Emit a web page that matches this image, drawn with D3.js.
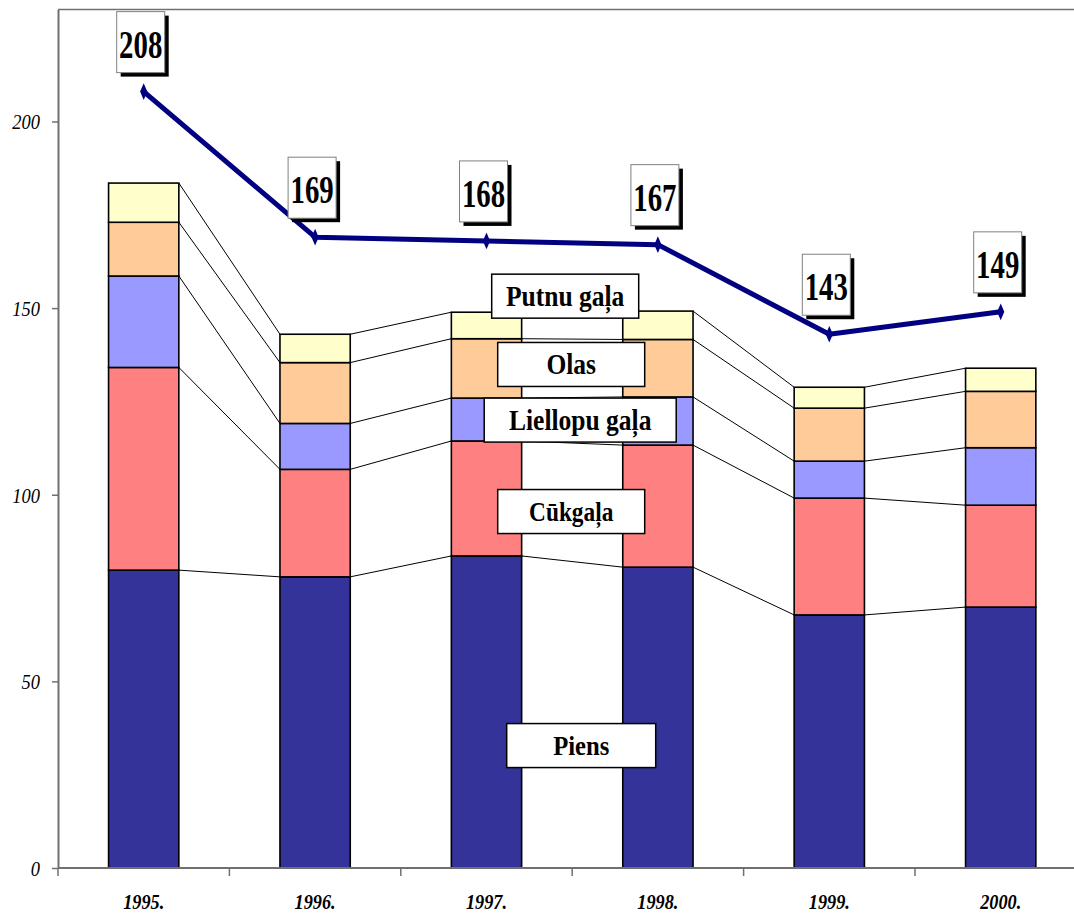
<!DOCTYPE html>
<html>
<head>
<meta charset="utf-8">
<script src="https://cdn.jsdelivr.net/npm/d3@7"></script>
<style>
  html, body { margin: 0; padding: 0; background: #fff; }
  svg { display: block; }
  svg text { font-family: "Liberation Serif", "DejaVu Serif", serif; }
</style>
</head>
<body>
<svg id="chart" width="1074" height="913"></svg>
<script>
/* Stacked bars per product + total line. */

const years   = ["1995.", "1996.", "1997.", "1998.", "1999.", "2000."];
const piens    = [79.8, 78.0, 83.6, 80.6, 67.8, 69.9];
const cukgala  = [54.3, 28.8, 30.8, 32.7, 31.3, 27.3];
const liellopu = [24.5, 12.3, 11.5, 12.9,  9.9, 15.4];
const olas     = [14.4, 16.3, 15.9, 15.4, 14.2, 15.1];
const putnu    = [10.5,  7.6,  7.1,  7.6,  5.6,  6.2];
const total    = [208, 169, 168, 167, 143, 149];
const yTicks   = [0, 50, 100, 150, 200];

const seriesNames = ["Piens", "Cūkgaļa", "Liellopu gaļa", "Olas", "Putnu gaļa"];
const seriesKeys  = ["piens", "cukgala", "liellopu", "olas", "putnu"];
const seriesColor = {
  piens:    "#333399",
  cukgala:  "#ff8080",
  liellopu: "#9999ff",
  olas:     "#ffcc99",
  putnu:    "#ffffcc"
};

/* Where the series name boxes sit: value on the y scale, shift from the
   1997/1998 boundary, box width, font size. */
const nameBoxes = [
  { key: "putnu",    at: 153.2, dx: -7, w: 147, fs: 29 },
  { key: "olas",     at: 134.9, dx: -1, w: 147, fs: 29 },
  { key: "liellopu", at: 120.0, dx:  8, w: 192, fs: 29 },
  { key: "cukgala",  at:  95.5, dx: -1, w: 147, fs: 26.5 },
  { key: "piens",    at:  32.8, dx:  9, w: 149, fs: 28 }
];

const FONT = "'Liberation Serif', 'DejaVu Serif', serif";
const svg = d3.select("#chart");

const rows = years.map(function (yr, i) {
  return { year: yr, piens: piens[i], cukgala: cukgala[i], liellopu: liellopu[i], olas: olas[i], putnu: putnu[i], total: total[i] };
});

const x = d3.scaleBand().domain(years).range([58, 58 + 6 * 171.4]).padding(0);
const y = d3.scaleLinear().domain([0, 230]).range([868, 9.5]);
const barW = x.bandwidth() * 0.41;
const barOff = (x.bandwidth() - barW) / 2;
const cx = function (yr) { return x(yr) + x.bandwidth() / 2; };

const stacked = d3.stack().keys(seriesKeys)(rows);

const axisColor = "#707070";

/* ---------- PLOT FRAME ---------- */

svg.append("line")
  .attr("x1", 58).attr("x2", 1074)
  .attr("y1", y(230)).attr("y2", y(230))
  .attr("stroke", axisColor).attr("stroke-width", 1.5);

/* ---------- CONNECTOR LINES ---------- */

const connectors = svg.append("g").attr("class", "connectors");
stacked.forEach(function (layer) {
  for (let i = 0; i < layer.length - 1; i++) {
    connectors.append("line")
      .attr("x1", x(years[i]) + barOff + barW)
      .attr("y1", y(layer[i][1]))
      .attr("x2", x(years[i + 1]) + barOff)
      .attr("y2", y(layer[i + 1][1]))
      .attr("stroke", "#000")
      .attr("stroke-width", 1);
  }
});

/* ---------- BARS ---------- */

svg.append("g").attr("class", "bars")
  .selectAll("g")
  .data(stacked)
  .enter()
  .append("g")
  .attr("fill", function (d) { return seriesColor[d.key]; })
  .selectAll("rect")
  .data(function (d) { return d; })
  .enter()
  .append("rect")
  .attr("x", function (d) { return x(d.data.year) + barOff; })
  .attr("y", function (d) { return y(d[1]); })
  .attr("width", barW)
  .attr("height", function (d) { return y(d[0]) - y(d[1]); })
  .attr("stroke", "#000")
  .attr("stroke-width", 1.6);

/* ---------- AXES ---------- */

const yAxis = svg.append("g")
  .attr("transform", "translate(58,0)")
  .call(d3.axisLeft(y).tickValues(yTicks).tickSize(6).tickSizeOuter(0));
yAxis.attr("font-family", FONT);
yAxis.select(".domain").attr("stroke", axisColor).attr("stroke-width", 2);
yAxis.selectAll(".tick line").attr("stroke", axisColor).attr("stroke-width", 1.5);
yAxis.selectAll(".tick text")
  .attr("x", -21.5)
  .attr("dy", "0.33em")
  .attr("transform", "scale(0.84,1)")
  .style("font-family", FONT)
  .attr("font-style", "italic")
  .attr("font-size", 22)
  .attr("fill", "#000");

const xAxis = svg.append("g")
  .attr("transform", "translate(0," + y(0) + ")")
  .call(d3.axisBottom(x).tickSize(0).tickSizeOuter(0));
xAxis.attr("font-family", FONT);
xAxis.select(".domain").attr("stroke", axisColor).attr("stroke-width", 2)
  .attr("d", "M58,0H1074");
xAxis.selectAll(".tick text")
  .attr("y", 41)
  .attr("dy", 0)
  .attr("transform", "scale(0.83,1)")
  .style("font-family", FONT)
  .attr("font-style", "italic")
  .attr("font-weight", "bold")
  .attr("font-size", 22)
  .attr("fill", "#000");

/* category boundary ticks */
const bounds = years.map(function (yr) { return x(yr); }).concat([x.range()[1]]);
svg.append("g").selectAll("line")
  .data(bounds)
  .enter()
  .append("line")
  .attr("x1", function (d) { return d; })
  .attr("x2", function (d) { return d; })
  .attr("y1", y(0))
  .attr("y2", y(0) + 8)
  .attr("stroke", axisColor)
  .attr("stroke-width", 1.5);

/* ---------- TOTAL LINE ---------- */

const line = d3.line()
  .x(function (d) { return cx(d.year); })
  .y(function (d) { return y(d.total); });

svg.append("path")
  .datum(rows)
  .attr("d", line)
  .attr("fill", "none")
  .attr("stroke", "#000080")
  .attr("stroke-width", 5)
  .attr("stroke-linejoin", "round");

svg.append("g").selectAll("path")
  .data(rows)
  .enter()
  .append("path")
  .attr("d", d3.symbol().type(d3.symbolDiamond).size(80))
  .attr("transform", function (d) { return "translate(" + cx(d.year) + "," + y(d.total) + ") scale(0.75,1)"; })
  .attr("fill", "#000080");

/* ---------- VALUE LABELS ---------- */

const BOX_W = 48, BOX_H = 61, SHADOW = 4;
const valueLabels = svg.append("g").selectAll("g")
  .data(rows)
  .enter()
  .append("g")
  .attr("transform", function (d) {
    return "translate(" + (cx(d.year) - 27) + "," + (y(d.total) - 19 - BOX_H) + ")";
  });

valueLabels.append("rect")
  .attr("x", SHADOW).attr("y", SHADOW)
  .attr("width", BOX_W).attr("height", BOX_H)
  .attr("fill", "#000");
valueLabels.append("rect")
  .attr("width", BOX_W).attr("height", BOX_H)
  .attr("fill", "#fff")
  .attr("stroke", "#808080")
  .attr("stroke-width", 1);
valueLabels.append("text")
  .attr("transform", "translate(" + (BOX_W / 2) + ",46) scale(0.72,1)")
  .attr("text-anchor", "middle")
  .style("font-family", FONT)
  .attr("font-weight", "bold")
  .attr("font-size", 40)
  .text(function (d) { return d.total; });

/* ---------- SERIES NAME BOXES ---------- */

const midX = x(years[3]);
const NAME_H = 44;
const nameSel = svg.append("g").selectAll("g")
  .data(nameBoxes)
  .enter()
  .append("g")
  .attr("transform", function (d) {
    return "translate(" + (midX + d.dx - d.w / 2) + "," + (y(d.at) - NAME_H / 2) + ")";
  });

nameSel.append("rect")
  .attr("width", function (d) { return d.w; })
  .attr("height", NAME_H)
  .attr("fill", "#fff")
  .attr("stroke", "#000")
  .attr("stroke-width", 1.5);
nameSel.append("text")
  .attr("transform", function (d) {
    return "translate(" + (d.w / 2) + "," + (NAME_H / 2 + d.fs * 0.34) + ") scale(0.88,1)";
  })
  .attr("text-anchor", "middle")
  .style("font-family", FONT)
  .attr("font-weight", "bold")
  .attr("font-size", function (d) { return d.fs; })
  .text(function (d) { return seriesNames[seriesKeys.indexOf(d.key)]; });
</script>
</body>
</html>
